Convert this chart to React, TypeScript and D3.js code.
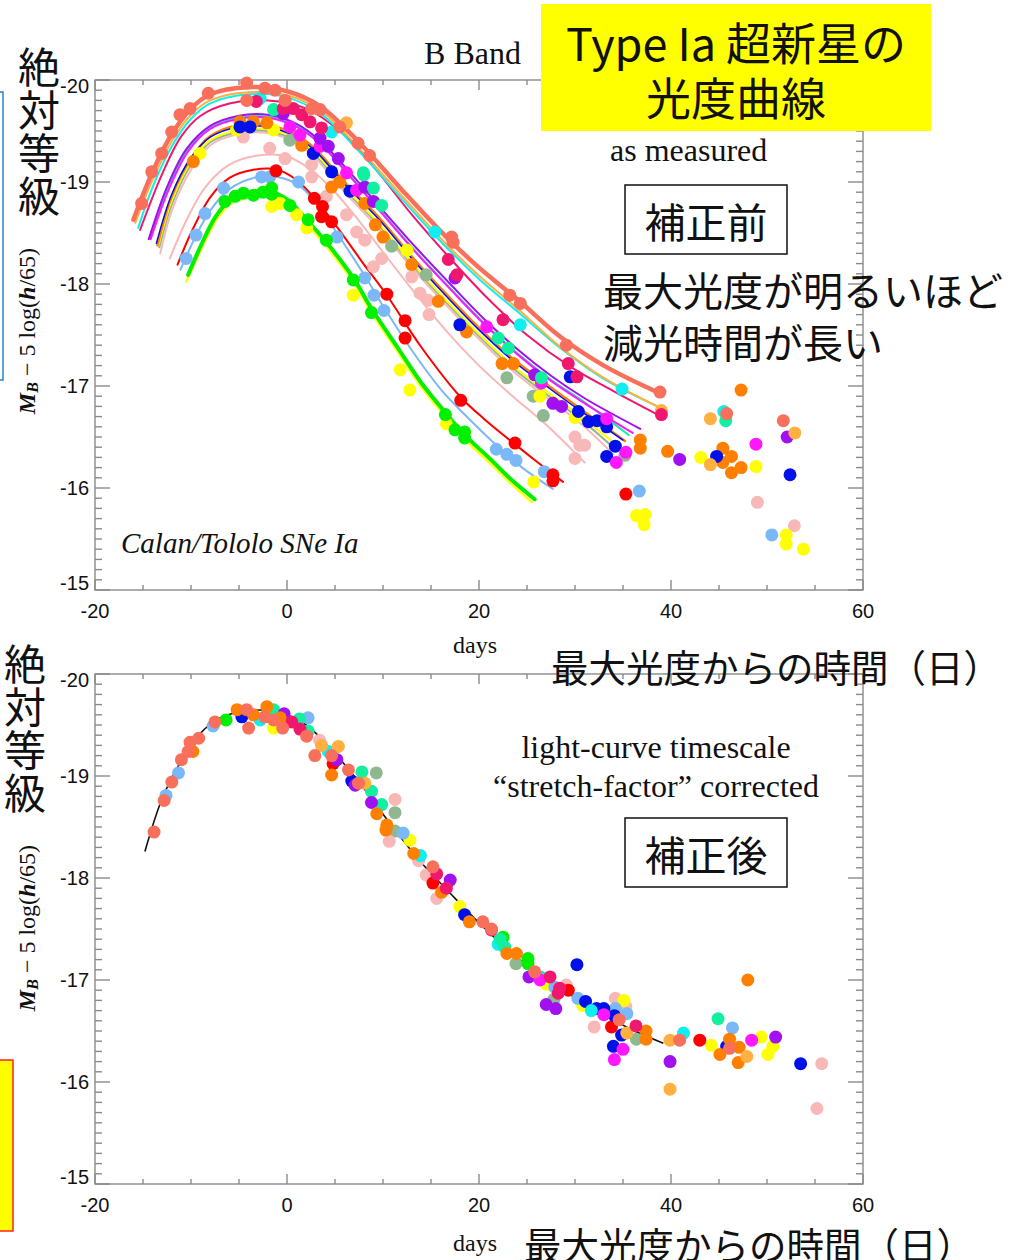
import React from 'react';
import * as d3 from 'd3';

type Pt = [number, number];

// axis ticks
const xTicks = [-20, 0, 20, 40, 60];
const yTicks = [-20, -19, -18, -17, -16, -15];

// ---- top panel: fitted light curves (days, M_B) ----
const curveSalmon: Pt[] = [[-16,-18.63],[-14,-19.1],[-12,-19.47],[-10,-19.72],[-8,-19.86],[-4,-19.93],[0,-19.89],[3.5,-19.74],[7.5,-19.39],[12,-18.92],[16.5,-18.47],[20,-18.16],[24,-17.85],[28.5,-17.48],[33,-17.2],[38.8,-16.93]];
const curveOrangeLight: Pt[] = [[-15.8,-18.6],[-14,-19.02],[-12,-19.4],[-10,-19.66],[-8,-19.8],[-4,-19.88],[0,-19.85],[3.5,-19.7],[7.5,-19.33],[12,-18.86],[16.5,-18.4],[20,-18.08],[24,-17.76],[28.5,-17.38],[33,-17.08],[39,-16.78]];
const curveCyan: Pt[] = [[-15.5,-18.55],[-14,-18.95],[-12,-19.35],[-10,-19.62],[-8,-19.77],[-4,-19.86],[0,-19.83],[3.5,-19.67],[7.5,-19.3],[12,-18.83],[16.5,-18.37],[20,-18.05],[24,-17.73],[28.5,-17.37],[33,-17.07],[38.6,-16.8]];
const curveCrimson: Pt[] = [[-15.3,-18.53],[-13,-19.08],[-11,-19.45],[-9,-19.65],[-6,-19.77],[-2,-19.8],[2,-19.72],[5.5,-19.5],[9,-19.15],[13,-18.68],[17,-18.25],[21,-17.85],[25,-17.5],[29.5,-17.19],[34,-16.95],[39,-16.7]];
const curvePurple: Pt[] = [[-14.4,-18.44],[-12.5,-18.95],[-10.5,-19.32],[-8,-19.55],[-5,-19.65],[-2,-19.66],[1,-19.57],[3.5,-19.4],[6.5,-19.1],[10,-18.72],[13.5,-18.35],[17,-18.0],[20.5,-17.66],[24,-17.36],[27.5,-17.1],[31,-16.88],[36.8,-16.58]];
const curveMagenta: Pt[] = [[-14.2,-18.44],[-12.3,-18.93],[-10.3,-19.3],[-8,-19.52],[-5,-19.62],[-2,-19.63],[1,-19.54],[3.5,-19.37],[6.5,-19.06],[10,-18.68],[13.5,-18.3],[17,-17.95],[20.5,-17.61],[24,-17.31],[27.5,-17.05],[31,-16.83],[36,-16.54]];
const curveSpring: Pt[] = [[-14.3,-18.45],[-12.4,-18.94],[-10.4,-19.31],[-8,-19.53],[-5,-19.63],[-2,-19.64],[1,-19.55],[3.5,-19.38],[6.5,-19.07],[10,-18.69],[13.5,-18.31],[17,-17.96],[20.5,-17.62],[24,-17.32],[27.5,-17.06],[31,-16.84],[35.6,-16.52]];
const curveOrange: Pt[] = [[-13.5,-18.38],[-12,-18.86],[-10,-19.23],[-8,-19.45],[-5,-19.56],[-2,-19.56],[1,-19.46],[3,-19.32],[6,-19.0],[9.7,-18.64],[13,-18.27],[16.6,-17.9],[20,-17.57],[23.5,-17.27],[27,-17.02],[30.5,-16.78],[35.2,-16.46]];
const curveBlue: Pt[] = [[-13.6,-18.4],[-12,-18.88],[-10,-19.24],[-8,-19.44],[-5,-19.54],[-2,-19.54],[1,-19.44],[3,-19.3],[6,-18.98],[9.7,-18.62],[13,-18.25],[16.6,-17.88],[20,-17.55],[23.5,-17.25],[27,-17.0],[30.5,-16.76],[35,-16.47]];
const curveYellowMid: Pt[] = [[-13.4,-18.38],[-12,-18.82],[-10,-19.2],[-8,-19.41],[-5,-19.51],[-2,-19.52],[1,-19.42],[3,-19.28],[6,-18.95],[9.7,-18.58],[13,-18.21],[16.6,-17.84],[20,-17.51],[23.5,-17.2],[27,-16.95],[30.5,-16.71],[34.5,-16.41]];
const curveSeaGreen: Pt[] = [[-13.3,-18.36],[-12,-18.78],[-10,-19.17],[-8,-19.39],[-5,-19.49],[-2,-19.5],[1,-19.4],[3,-19.26],[6,-18.93],[9.7,-18.56],[13,-18.19],[16.6,-17.82],[20,-17.49],[23.5,-17.18],[27,-16.92],[30.5,-16.68],[34.2,-16.38]];
const curvePinkMid: Pt[] = [[-13.2,-18.3],[-12,-18.72],[-10,-19.12],[-8,-19.36],[-5,-19.47],[-2,-19.48],[1,-19.38],[3,-19.23],[6,-18.9],[9.7,-18.53],[13,-18.16],[16.6,-17.79],[20,-17.46],[23.5,-17.15],[27,-16.89],[30.5,-16.64],[34,-16.33]];
const curvePinkLow: Pt[] = [[-12.2,-18.25],[-10.5,-18.62],[-8.5,-18.95],[-6,-19.17],[-3,-19.26],[0,-19.25],[2.5,-19.12],[5,-18.9],[7.5,-18.62],[9.7,-18.35],[13,-17.95],[16.5,-17.55],[20,-17.2],[23.5,-16.9],[27,-16.62],[31,-16.25]];
const curveRed: Pt[] = [[-11.4,-18.19],[-10,-18.5],[-8,-18.85],[-6,-19.04],[-3.5,-19.12],[-1,-19.12],[1,-19.02],[2.7,-18.86],[5.2,-18.56],[7.8,-18.22],[10.4,-17.89],[14,-17.38],[18,-16.9],[20.5,-16.68],[23.6,-16.44],[26,-16.26],[28.75,-16.06]];
const curveLightBlue: Pt[] = [[-11.1,-18.14],[-9.5,-18.47],[-8,-18.72],[-6,-18.93],[-3.5,-19.04],[-1,-19.05],[1.2,-18.97],[3,-18.8],[5.2,-18.5],[8.1,-18.08],[10.1,-17.77],[13,-17.35],[16,-16.97],[18.5,-16.72],[21.8,-16.42],[24.5,-16.2],[27.7,-15.99]];
const curveYellowLow: Pt[] = [[-10.5,-18.02],[-9,-18.33],[-7.5,-18.61],[-6,-18.78],[-4,-18.85],[-2,-18.87],[0,-18.79],[2.05,-18.59],[4.1,-18.37],[6.9,-18.02],[8.8,-17.72],[11.5,-17.34],[14,-16.99],[16.5,-16.7],[18.5,-16.48],[21,-16.26],[23.5,-16.03],[25.5,-15.86]];
const curveGreen: Pt[] = [[-10.3,-18.09],[-9,-18.37],[-7.5,-18.65],[-6,-18.82],[-4,-18.89],[-2,-18.91],[0,-18.83],[2.05,-18.63],[4.1,-18.41],[6.9,-18.06],[8.8,-17.76],[11.5,-17.38],[14,-17.03],[16.5,-16.74],[18.5,-16.52],[21,-16.3],[23.5,-16.07],[25.8,-15.89]];

// ---- top panel: measured points ----
const topSalmon: Pt[] = [[-15.14,-18.79],[-14.09,-19.1],[-13.05,-19.28],[-12.01,-19.49],[-11.15,-19.66],[-10.1,-19.72],[-8.2,-19.87],[-4.2,-19.97],[-4.2,-19.8],[-2.3,-19.92],[-1.25,-19.9],[-0.2,-19.8],[2.57,-19.72],[3.44,-19.71],[5.5,-19.54],[7.4,-19.38],[8.6,-19.26],[17.15,-18.46],[17.3,-18.41],[23.2,-17.89],[24.3,-17.81],[29.1,-17.4],[38.85,-16.94],[45.8,-16.73],[51.7,-16.66]];
const topOrangeLight: Pt[] = [[6.2,-19.58],[39,-16.76],[44.1,-16.68],[44.1,-16.23],[52.9,-16.54]];
const topCyan: Pt[] = [[-2.8,-19.82],[4.65,-19.49],[15.4,-18.51],[24.3,-17.6],[34.9,-16.97],[45.5,-16.75]];
const topCrimson: Pt[] = [[-3.2,-19.79],[-0.4,-19.72],[0.66,-19.72],[1.53,-19.66],[2.4,-19.59],[3.6,-19.53],[16.8,-18.24],[17.7,-18.09],[22.5,-17.65],[29.3,-17.22],[30.2,-17.09],[39,-16.72]];
const topSpring: Pt[] = [[-1.4,-19.71],[7.95,-19.09],[8.0,-19.07],[9.0,-18.94],[9.86,-18.77],[22.0,-17.47],[23.05,-17.37],[26.5,-17.08],[45.7,-16.66]];
const topPurple: Pt[] = [[-0.4,-19.67],[3.44,-19.43],[4.3,-19.35],[5.35,-19.23],[8.1,-18.95],[9.0,-18.81],[17.5,-18.06],[25.8,-17.11],[27.7,-16.83],[28.6,-16.8],[40.9,-16.28],[52.1,-16.5]];
const topMagenta: Pt[] = [[0.3,-19.54],[1.35,-19.46],[3.44,-19.35],[6.2,-19.09],[7.25,-18.92],[20.8,-17.58],[26.5,-17.03],[33.3,-16.68],[35.3,-16.35],[34.3,-16.25],[48.85,-16.43]];
const topBlue: Pt[] = [[-4.9,-19.54],[-3.85,-19.54],[2.74,-19.28],[4.65,-19.1],[6.56,-18.91],[18,-17.6],[29.5,-17.09],[30.35,-16.75],[31.4,-16.65],[32.3,-16.66],[33.3,-16.6],[34.2,-16.41],[33.3,-16.31],[44.75,-16.31],[52.4,-16.13]];
const topOrange: Pt[] = [[-9.76,-19.2],[-4.9,-19.59],[-3.5,-19.59],[-2.1,-19.58],[1.53,-19.36],[4.65,-18.95],[5.5,-19.0],[8.1,-18.79],[9.2,-18.58],[10,-18.46],[13,-18.19],[15.76,-17.83],[18.7,-17.53],[22.4,-17.22],[23.6,-17.22],[36.8,-16.47],[36.8,-16.39],[39.65,-16.36],[45.4,-16.39],[46.3,-16.31],[45.4,-16.25],[46.3,-16.15],[47.3,-16.2],[47.3,-16.96]];
const topYellow: Pt[] = [[-9.06,-19.28],[-5.25,-19.51],[-1.4,-19.51],[-1.6,-18.76],[-0.7,-18.79],[1.0,-18.68],[2.05,-18.55],[6.9,-17.89],[12.5,-18.33],[11.8,-17.16],[12.8,-16.96],[16.6,-16.63],[25.7,-16.06],[26.35,-16.9],[30,-16.69],[43.1,-16.3],[48.85,-16.21],[36.4,-15.73],[37.3,-15.74],[37.2,-15.64],[52,-15.54],[52,-15.45],[53.8,-15.4]];
const topGreen: Pt[] = [[-6.46,-18.81],[-5.4,-18.86],[-4.55,-18.89],[-3.5,-18.87],[-2.5,-18.9],[-1.6,-18.94],[-1.6,-18.88],[0.3,-18.77],[2.2,-18.63],[4.1,-18.43],[6.9,-18.04],[8.8,-17.72],[16.5,-16.72],[17.5,-16.57],[18.5,-16.55],[18.5,-16.49]];
const topLightBlue: Pt[] = [[-10.5,-18.25],[-9.48,-18.48],[-8.54,-18.69],[-6.6,-18.94],[-2.65,-19.05],[-1.8,-19.05],[1.2,-19.0],[5.2,-18.46],[8.1,-18.06],[9.06,-17.89],[10.1,-17.74],[21.8,-16.38],[22.9,-16.33],[23.85,-16.27],[26.8,-16.16],[36.7,-15.97],[50.5,-15.54]];
const topRed: Pt[] = [[-1.15,-19.11],[2.85,-18.84],[3.7,-18.76],[3.6,-18.66],[4.65,-18.61],[10.4,-17.9],[12.3,-17.64],[12.3,-17.47],[18.1,-16.86],[23.75,-16.44],[27.7,-16.13],[27.7,-16.07],[35.3,-15.94]];
const topPink: Pt[] = [[-4.55,-19.44],[-1.8,-19.33],[-0.2,-19.23],[2.57,-19.17],[2.57,-19.05],[4.1,-18.86],[6.2,-18.68],[7.25,-18.51],[8.1,-18.43],[9.0,-18.17],[9.86,-18.25],[13,-18.07],[13.85,-17.91],[14.7,-17.84],[14.8,-17.7],[30,-16.5],[30.5,-16.42],[31,-16.42],[30,-16.29],[49,-15.86],[52.85,-15.63]];
const topSeaGreen: Pt[] = [[0.3,-19.41],[10.9,-18.37],[14.5,-18.09],[22.9,-17.08],[25.65,-16.9],[26.7,-16.71],[35.2,-16.32]];

// ---- bottom panel: stretch-corrected template and points ----
const templateCurve: Pt[] = [[-14.8,-18.26],[-13,-18.78],[-11,-19.15],[-9,-19.42],[-7,-19.57],[-4,-19.64],[-1,-19.63],[2,-19.5],[5,-19.22],[8,-18.88],[11,-18.5],[14,-18.15],[17,-17.85],[20,-17.56],[23,-17.3],[26,-17.07],[29.8,-16.84],[33,-16.66],[36,-16.51],[39.2,-16.38]];
const botSalmon: Pt[] = [[-13.85,-18.45],[-12.8,-18.76],[-12.0,-18.94],[-11.0,-19.16],[-10.3,-19.24],[-10.1,-19.33],[-9.2,-19.37],[-7.5,-19.53],[-4.2,-19.65],[-4.0,-19.47],[-2.3,-19.58],[-1.4,-19.55],[-0.45,-19.47],[2.05,-19.39],[2.9,-19.2],[4.65,-19.2],[6.4,-19.06],[7.45,-18.93],[15.2,-18.11],[20.4,-17.57],[21.3,-17.5],[25.8,-17.08],[34.6,-16.61],[40.9,-16.41],[46.1,-16.33]];
const botLightBlue: Pt[] = [[-12.6,-18.81],[-11.3,-19.03],[-7.7,-19.49],[2.2,-19.57],[12.1,-18.44],[27.9,-16.93],[30.3,-16.82],[34.2,-16.72],[35.4,-16.67],[46.4,-16.53]];
const botOrange: Pt[] = [[-9.8,-19.24],[-5.2,-19.65],[-3.5,-19.6],[-2.1,-19.68],[-0.7,-19.57],[4.65,-19.01],[9.35,-18.63],[10.4,-18.52],[10.3,-18.47],[13.2,-18.24],[16.1,-17.86],[19,-17.57],[22.9,-17.26],[23.9,-17.26],[37.4,-16.5],[37.4,-16.42],[46.1,-16.42],[45.1,-16.27],[47.1,-16.34],[47,-16.19],[48,-17.0]];
const botOrangeLight: Pt[] = [[3.6,-19.3],[5.35,-19.29],[8.1,-18.93],[35.4,-16.48],[39.9,-16.41],[39.9,-15.93],[47.9,-16.25]];
const botGreen: Pt[] = [[-6.35,-19.55],[22.5,-17.42],[25.1,-17.21],[25.1,-17.16]];
const botBlue: Pt[] = [[-4.7,-19.58],[6.75,-18.95],[18.5,-17.64],[30.2,-17.15],[31.1,-16.79],[32.25,-16.72],[33,-16.72],[34.1,-16.65],[34.85,-16.46],[34,-16.35],[45.8,-16.35],[53.5,-16.18]];
const botCyan: Pt[] = [[-2.8,-19.55],[4.3,-19.24],[13.9,-18.22],[22,-17.35],[31.7,-16.7],[41.3,-16.48]];
const botSpring: Pt[] = [[-1.4,-19.65],[1.3,-19.56],[2.2,-19.44],[7.8,-19.04],[8.8,-18.85],[9.86,-18.72],[22.2,-17.4],[22.7,-17.32],[26.35,-17.03],[44.9,-16.62]];
const botYellow: Pt[] = [[-1.4,-19.47],[12.8,-18.37],[18,-17.72],[27,-16.96],[30.8,-16.75],[35.1,-16.8],[44.2,-16.36],[49.4,-16.44],[50.6,-16.35],[50.1,-16.27]];
const botPurple: Pt[] = [[-0.3,-19.61],[5.2,-19.16],[7.1,-18.91],[8.8,-18.74],[17,-17.98],[25.2,-17.03],[27,-16.76],[28,-16.72],[39.9,-16.2],[50.9,-16.44]];
const botCrimson: Pt[] = [[0.5,-19.53],[1.35,-19.46],[15.6,-18.04],[16.6,-17.9],[21.3,-17.49],[27.4,-17.03],[28.4,-16.92],[28.25,-16.87],[36.35,-16.55]];
const botPink: Pt[] = [[3.4,-19.35],[11.25,-18.77],[10.65,-18.36],[13.7,-18.17],[14.5,-18.03],[15.6,-17.8],[29.1,-16.95],[34.2,-16.82],[35.3,-16.74],[32,-16.54],[55.7,-16.18],[55.2,-15.74]];
const botRed: Pt[] = [[4.8,-19.12],[15.2,-17.95],[29.3,-16.9],[33.8,-16.54],[43,-16.41]];
const botSeaGreen: Pt[] = [[9.3,-19.03],[11.25,-18.64],[11.25,-18.46],[23.85,-17.16],[27.8,-16.81],[36.4,-16.42]];
const botMagenta: Pt[] = [[26.35,-17.0],[33,-16.66],[35,-16.32],[34.1,-16.22],[48.4,-16.41]];

const C = {
  salmon: '#f8705c', orangeLight: '#ffb040', cyan: '#10eef0', crimson: '#f0186e',
  purple: '#a010f0', magenta: '#ff18ff', spring: '#10f0a0', orange: '#ff8000',
  blue: '#0010e8', yellow: '#ffff00', seaGreen: '#90b890', pink: '#f8b8b8',
  red: '#ff0000', lightBlue: '#7ab8f8', green: '#00f000',
};

const topCurves = [
  { d: curveYellowLow, c: C.yellow, w: 2.5 },
  { d: curveGreen, c: C.green, w: 4 },
  { d: curveLightBlue, c: C.lightBlue, w: 2 },
  { d: curveRed, c: C.red, w: 2 },
  { d: curvePinkLow, c: C.pink, w: 2 },
  { d: curvePinkMid, c: C.pink, w: 2 },
  { d: curveSeaGreen, c: C.seaGreen, w: 2 },
  { d: curveYellowMid, c: C.yellow, w: 2 },
  { d: curveOrange, c: C.orange, w: 2.5 },
  { d: curveBlue, c: C.blue, w: 1.5 },
  { d: curveSpring, c: C.spring, w: 2 },
  { d: curveMagenta, c: C.magenta, w: 2 },
  { d: curvePurple, c: C.purple, w: 2 },
  { d: curveCrimson, c: C.crimson, w: 2 },
  { d: curveCyan, c: C.cyan, w: 2 },
  { d: curveOrangeLight, c: C.orangeLight, w: 2 },
  { d: curveSalmon, c: C.salmon, w: 4.5 },
];

const topDots = [
  { d: topPink, c: C.pink }, { d: topSeaGreen, c: C.seaGreen }, { d: topYellow, c: C.yellow },
  { d: topLightBlue, c: C.lightBlue }, { d: topGreen, c: C.green }, { d: topRed, c: C.red },
  { d: topOrange, c: C.orange }, { d: topBlue, c: C.blue }, { d: topMagenta, c: C.magenta },
  { d: topPurple, c: C.purple }, { d: topSpring, c: C.spring }, { d: topCyan, c: C.cyan },
  { d: topOrangeLight, c: C.orangeLight }, { d: topCrimson, c: C.crimson }, { d: topSalmon, c: C.salmon },
];

const botDots = [
  { d: botSeaGreen, c: C.seaGreen }, { d: botPink, c: C.pink }, { d: botYellow, c: C.yellow },
  { d: botLightBlue, c: C.lightBlue }, { d: botGreen, c: C.green }, { d: botRed, c: C.red },
  { d: botBlue, c: C.blue }, { d: botCyan, c: C.cyan }, { d: botSpring, c: C.spring },
  { d: botPurple, c: C.purple }, { d: botMagenta, c: C.magenta }, { d: botOrange, c: C.orange },
  { d: botOrangeLight, c: C.orangeLight }, { d: botCrimson, c: C.crimson }, { d: botSalmon, c: C.salmon },
];

const x = d3.scaleLinear().domain([-20, 60]).range([95, 863]);
const yTop = d3.scaleLinear().domain([-20, -15]).range([80, 590]);
const yBot = d3.scaleLinear().domain([-20, -15]).range([674, 1184]);

const SANS = '"Liberation Sans", Arial, sans-serif';
const SERIF = '"Liberation Serif", "Times New Roman", serif';
const JP = '"Noto Sans CJK JP", sans-serif';
const AXIS = '#8a8a8a';

function Frame({ y }: { y: d3.ScaleLinear<number, number> }) {
  const [x0, x1] = x.range();
  const [y0, y1] = y.range();
  const xMinor = d3.range(-20, 60.01, 5);
  const yMinor = d3.range(0, 51).map(i => -20 + i * 0.1);
  return (
    <g>
      <g stroke={AXIS} strokeWidth={1.4} fill="none">
        <rect x={x0} y={y0} width={x1 - x0} height={y1 - y0} />
        {xMinor.map(v => {
          const L = v % 20 === 0 ? 10 : 5;
          return (
            <g key={v}>
              <line x1={x(v)} x2={x(v)} y1={y1} y2={y1 - L} />
              <line x1={x(v)} x2={x(v)} y1={y0} y2={y0 + L} />
            </g>
          );
        })}
        {yMinor.map((v, i) => {
          const L = i % 10 === 0 ? 15 : 7;
          return (
            <g key={i}>
              <line x1={x0} x2={x0 + L} y1={y(v)} y2={y(v)} />
              <line x1={x1} x2={x1 - L} y1={y(v)} y2={y(v)} />
            </g>
          );
        })}
      </g>
      <g fontFamily={SANS} fontSize={20} fill="#111">
        {yTicks.map((v, i) => (
          <text key={v} x={89} y={y(v) + (i === 0 ? 6 : i === yTicks.length - 1 ? -7 : 0)}
            textAnchor="end" dominantBaseline="central">{v}</text>
        ))}
        {xTicks.map(v => (
          <text key={v} x={x(v)} y={y1 + 21} textAnchor="middle" dominantBaseline="central">{v}</text>
        ))}
      </g>
    </g>
  );
}

function YLabel({ cx, cy }: { cx: number; cy: number }) {
  return (
    <text transform={`translate(${cx},${cy}) rotate(-90)`} textAnchor="middle"
      fontFamily={SERIF} fontSize={24} fill="#111" dominantBaseline="central">
      <tspan fontWeight="bold" fontStyle="italic">M</tspan>
      <tspan fontWeight="bold" fontStyle="italic" fontSize={16} dy={5}>B</tspan>
      <tspan dy={-5}>{' \u2212 5 log('}</tspan>
      <tspan fontWeight="bold" fontStyle="italic">h</tspan>
      <tspan>/65)</tspan>
    </text>
  );
}

// vertical Japanese label as one text run
function Vertical({ cx, top }: { cx: number; top: number }) {
  return (
    <text x={cx} y={top} fontFamily={JP} fontSize={42} fill="#111" letterSpacing={1}
      style={{ writingMode: 'vertical-rl' as any }}>絶対等級</text>
  );
}

const line = (y: d3.ScaleLinear<number, number>) =>
  d3.line<Pt>().x(d => x(d[0])).y(d => y(d[1])).curve(d3.curveCatmullRom.alpha(0.5));

const App: React.FC = () => {
  const lt = line(yTop);
  const lb = line(yBot);
  return (
    <svg width={1012} height={1260} style={{ position: 'absolute', left: 0, top: 0, background: '#fff' }}>
      <rect x={0} y={0} width={1012} height={1260} fill="#fff" />

      {/* ---------- top panel ---------- */}
      <Frame y={yTop} />
      <g fill="none" strokeLinecap="round">
        {topCurves.map((s, i) => <path key={i} d={lt(s.d) || ''} stroke={s.c} strokeWidth={s.w} />)}
      </g>
      {topDots.map((s, i) => (
        <g key={i} fill={s.c}>
          {s.d.map((p, j) => <circle key={j} cx={x(p[0])} cy={yTop(p[1])} r={6.5} />)}
        </g>
      ))}
      <text x={521} y={64} textAnchor="end" fontFamily={SERIF} fontSize={32} fill="#111">B Band</text>
      <text x={610} y={161} fontFamily={SERIF} fontSize={32} fill="#111">as measured</text>
      <text x={121} y={553} fontFamily={SERIF} fontStyle="italic" fontSize={29} fill="#111">Calan/Tololo SNe Ia</text>
      <text x={475} y={653} textAnchor="middle" fontFamily={SERIF} fontSize={24} fill="#111">days</text>

      <rect x={625} y={185} width={162} height={69} fill="none" stroke="#111" strokeWidth={1.5} />
      <text x={706} y={220} textAnchor="middle" dominantBaseline="central" fontFamily={JP} fontSize={41} fill="#111">補正前</text>
      <g fontFamily={JP} fontSize={40} fill="#111">
        <text x={603} y={289} dominantBaseline="central">最大光度が明るいほど</text>
        <text x={603} y={341} dominantBaseline="central">減光時間が長い</text>
      </g>

      <rect x={541} y={4} width={390} height={127} fill="#ffff00" />
      <g fontFamily={JP} fontSize={45} fill="#111" textAnchor="middle">
        <text x={736} y={41} dominantBaseline="central">Type Ia 超新星の</text>
        <text x={736} y={96} dominantBaseline="central">光度曲線</text>
      </g>

      {/* ---------- bottom panel ---------- */}
      <Frame y={yBot} />
      <path d={lb(templateCurve) || ''} fill="none" stroke="#111" strokeWidth={1.6} />
      {botDots.map((s, i) => (
        <g key={i} fill={s.c}>
          {s.d.map((p, j) => <circle key={j} cx={x(p[0])} cy={yBot(p[1])} r={6.5} />)}
        </g>
      ))}
      <g fontFamily={SERIF} fontSize={32} fill="#111" textAnchor="middle">
        <text x={656} y={758}>light-curve timescale</text>
        <text x={656} y={797}>{'\u201Cstretch-factor\u201D corrected'}</text>
      </g>
      <rect x={625} y={818} width={162} height={69} fill="none" stroke="#111" strokeWidth={1.5} />
      <text x={706} y={853} textAnchor="middle" dominantBaseline="central" fontFamily={JP} fontSize={41} fill="#111">補正後</text>
      <text x={475} y={1251} textAnchor="middle" fontFamily={SERIF} fontSize={24} fill="#111">days</text>

      {/* ---------- labels around ---------- */}
      <g fontFamily={JP} fontSize={38} fill="#111">
        <text x={551} y={665} dominantBaseline="central" textLength={450} lengthAdjust="spacingAndGlyphs">最大光度からの時間（日）</text>
        <text x={524} y={1243} dominantBaseline="central" textLength={450} lengthAdjust="spacingAndGlyphs">最大光度からの時間（日）</text>
      </g>
      <Vertical cx={39} top={46} />
      <Vertical cx={25} top={643} />
      <YLabel cx={27} cy={331} />
      <YLabel cx={27} cy={928} />

      <rect x={-10} y={92} width={13} height={288} fill="none" stroke="#2a7fd4" strokeWidth={1.5} />
      <rect x={-10} y={1060} width={23} height={171} fill="#ffff00" stroke="#ff2020" strokeWidth={1.5} />
    </svg>
  );
};

export default App;
